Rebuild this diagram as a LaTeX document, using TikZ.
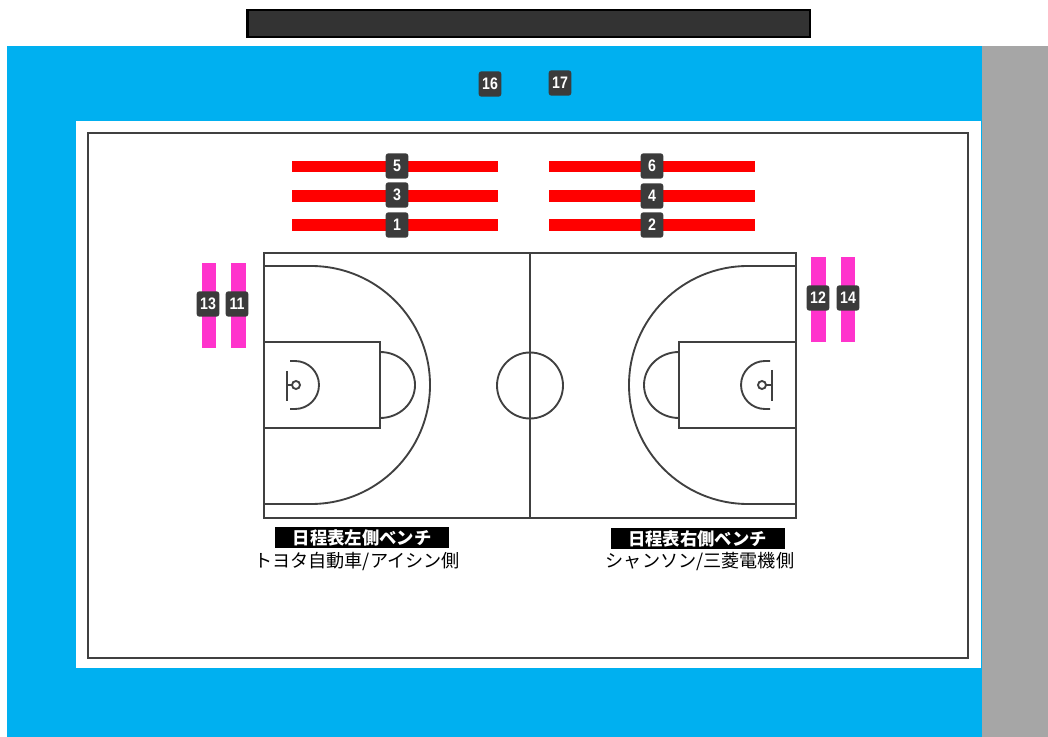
\documentclass[tikz,border=0pt]{standalone}
\usepackage{fontspec}
\setmainfont{Noto Sans CJK JP}
\newfontfamily\badgefont[FakeStretch=0.85]{Liberation Sans}
\usepackage{xcolor}
\usetikzlibrary{positioning}
\definecolor{floorblue}{RGB}{0, 176, 240}
\definecolor{sidegray}{RGB}{166, 166, 166}
\definecolor{courtline}{RGB}{64, 64, 64}
\definecolor{badgegray}{RGB}{59, 59, 59}
\definecolor{boardgray}{RGB}{51, 51, 51}
\definecolor{seatred}{RGB}{255, 0, 0}
\definecolor{seatpink}{RGB}{255, 51, 204}

\begin{document}
\begin{tikzpicture}[
	x=0.75pt, y=-0.75pt,
	line/.style={draw=courtline, line width=1.4pt},
	redseat/.style={fill=seatred},
	pinkseat/.style={fill=seatpink},
	badge/.style={rectangle, fill=badgegray, rounded corners=2pt, minimum width=17pt, minimum height=19pt, inner sep=0pt, text=white, font=\badgefont\bfseries\fontsize{12.5}{14}\selectfont},
	bench/.style={rectangle, fill=black, minimum width=130.5pt, minimum height=16pt, inner sep=0pt, text=white, font=\bfseries\fontsize{13}{15}\selectfont},
	side/.style={inner sep=0pt, text=black, font=\fontsize{13.6}{15}\selectfont}
	]
	\useasboundingbox (0,0) rectangle (1048,737);
	% hall
	\fill[floorblue] (7,46) rectangle (982,737);
	\fill[sidegray] (982,46) rectangle (1048,737);
	\fill[white] (76,121) rectangle (981,668);
	\draw[line] (88,133) rectangle (968,658);
	\draw[draw=black, line width=2.2pt, fill=boardgray] (247.5,10) rectangle (810,37);
	
	% court
	\draw[line] (264,253) rectangle (796,518);
	\draw[line] (530,253) -- (530,518);
	\draw[line] (530,385.5) circle[radius=33];
	
	% left half
	\draw[line] (264,342) rectangle (380,428);
	\draw[line] (264,266) -- (311,266) arc[start angle=-90, end angle=90, radius=119] -- (264,504);
	\draw[line] (380,352) arc[start angle=-90, end angle=90, x radius=35, y radius=33];
	\draw[line] (290,361) -- (295,361) arc[start angle=-90, end angle=90, radius=24] -- (290,409);
	\draw[line] (287,371) -- (287,401);
	\draw[line] (287,385) -- (292,385);
	\draw[line] (296,385) circle[radius=4];
	
	% right half
	\draw[line] (679,342) rectangle (796,428);
	\draw[line] (796,266) -- (748,266) arc[start angle=-90, end angle=-270, radius=119] -- (796,504);
	\draw[line] (679,352) arc[start angle=-90, end angle=-270, x radius=35, y radius=33];
	\draw[line] (770,361) -- (765,361) arc[start angle=-90, end angle=-270, radius=24] -- (770,409);
	\draw[line] (772,370) -- (772,401);
	\draw[line] (766,385) -- (772,385);
	\draw[line] (762,385) circle[radius=4];
	
	% seats
	\fill[redseat] (292,161) rectangle (498,172);
	\fill[redseat] (292,190) rectangle (498,202);
	\fill[redseat] (292,219) rectangle (498,231);
	\fill[redseat] (549,161) rectangle (755,172);
	\fill[redseat] (549,190) rectangle (755,202);
	\fill[redseat] (549,219) rectangle (755,231);
	\fill[pinkseat] (202,263) rectangle (216,348);
	\fill[pinkseat] (231,263) rectangle (246,348);
	\fill[pinkseat] (811,257) rectangle (826,342);
	\fill[pinkseat] (841,257) rectangle (855,342);
	
	\node[badge] (n1) at (397,225) {1};
	\node[badge] (n2) at (652,225) {2};
	\node[badge] (n3) at (397,195) {3};
	\node[badge] (n4) at (652,196) {4};
	\node[badge] (n5) at (397,166) {5};
	\node[badge] (n6) at (652,166) {6};
	\node[badge] (n11) at (237,304) {11};
	\node[badge] (n12) at (818,298) {12};
	\node[badge] (n13) at (208,304) {13};
	\node[badge] (n14) at (848,298) {14};
	\node[badge] (n16) at (490,84) {16};
	\node[badge] (n17) at (560,83) {17};
	
	% benches
	\node[bench] (leftbench) at (362,537.5) {日程表左側ベンチ};
	\node[bench] (rightbench) at (697.5,538.5) {日程表右側ベンチ};
	\node[side] (lefttext) at (357,561) {トヨタ自動車/アイシン側};
	\node[side] (righttext) at (700,562) {シャンソン/三菱電機側};
\end{tikzpicture}
\end{document}
